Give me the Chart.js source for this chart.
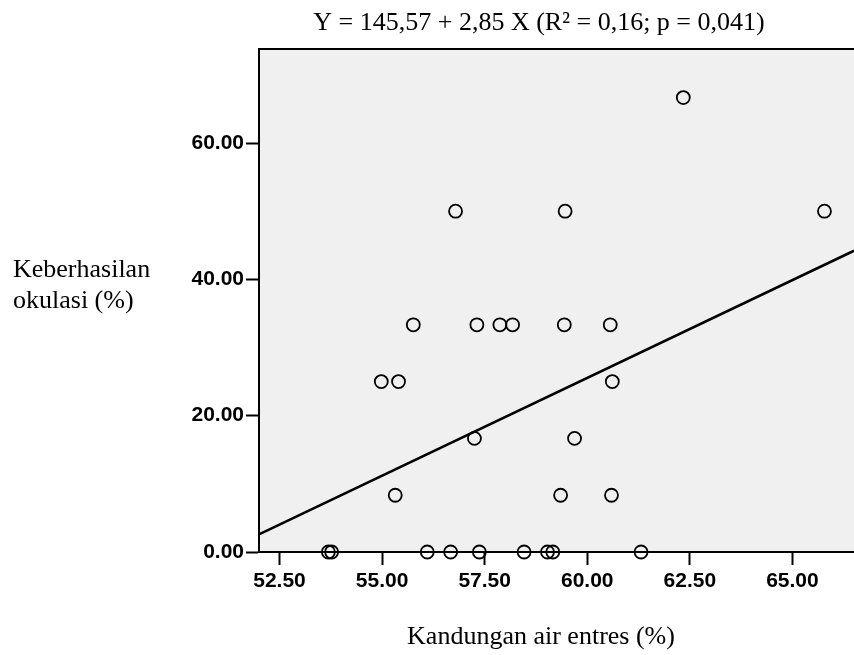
<!DOCTYPE html>
<html lang="id">
<head>
    <meta charset="UTF-8">
    <title>Kandungan air entres vs Keberhasilan okulasi</title>
    <script src="https://cdn.jsdelivr.net/npm/chart.js"></script>
    <style>
        html, body { margin: 0; padding: 0; background: #fff; overflow: hidden; }
        canvas { display: block; }
    </style>
</head>
<body>
    <canvas id="scatterChart" width="854" height="655"></canvas>

    <script>
        const kadarAir = [
            53.69, 53.77, 56.10, 56.67, 57.37, 58.46, 59.03, 59.16, 61.31,
            55.32, 59.35, 60.59,
            57.25, 59.69,
            54.98, 55.40, 60.61,
            55.76, 57.31, 57.87, 58.18, 59.44, 60.56,
            56.79, 59.46, 65.78,
            62.34
        ];
        const keberhasilan = [
            0, 0, 0, 0, 0, 0, 0, 0, 0,
            8.33, 8.33, 8.33,
            16.67, 16.67,
            25, 25, 25,
            33.33, 33.33, 33.33, 33.33, 33.33, 33.33,
            50, 50, 50,
            66.67
        ];

        // Fitted line end points
        const garisX = [52.0, 66.5];
        const garisY = [2.6, 44.2];

        // Tick labels
        const xTicks = [52.5, 55, 57.5, 60, 62.5, 65];
        const yTicks = [0, 20, 40, 60];

        const judul = 'Y = 145,57 + 2,85 X (R\u00B2 = 0,16; p = 0,041)';
        const judulX = 'Kandungan air entres (%)';
        const judulY = ['Keberhasilan', 'okulasi (%)'];

        const points = kadarAir.map((x, i) => ({ x: x, y: keberhasilan[i] }));
        const garis = garisX.map((x, i) => ({ x: x, y: garisY[i] }));

        const serif = '"Liberation Serif", "Times New Roman", serif';

        // grey plot area, top border and the serif texts
        const panelPlugin = {
            id: 'panel',
            beforeDraw(chart) {
                const { ctx, chartArea } = chart;
                ctx.save();
                ctx.fillStyle = '#f0f0f0';
                ctx.fillRect(chartArea.left, chartArea.top,
                    chartArea.right - chartArea.left, chartArea.bottom - chartArea.top);
                ctx.restore();
            },
            beforeDatasetsDraw(chart) {
                const { ctx, chartArea } = chart;
                ctx.save();
                ctx.strokeStyle = '#000';
                ctx.lineWidth = 2;
                ctx.beginPath();
                ctx.moveTo(chartArea.left, chartArea.top);
                ctx.lineTo(chartArea.right, chartArea.top);
                ctx.stroke();
                ctx.restore();
            },
            afterDraw(chart) {
                const { ctx } = chart;
                ctx.save();
                ctx.fillStyle = '#000';
                ctx.font = '26px ' + serif;
                ctx.textBaseline = 'alphabetic';
                ctx.textAlign = 'center';
                ctx.fillText(judul, 539, 30);
                ctx.fillText(judulX, 541, 644);
                ctx.textAlign = 'left';
                ctx.fillText(judulY[0], 13, 277);
                ctx.fillText(judulY[1], 13, 308);
                ctx.restore();
            }
        };

        const tickFont = { family: '"Liberation Sans", Arial, sans-serif', size: 21, weight: 'bold' };

        const ctx = document.getElementById('scatterChart').getContext('2d');
        const chart = new Chart(ctx, {
            type: 'scatter',
            data: {
                datasets: [
                    {
                        label: 'Data',
                        data: points,
                        pointRadius: 6.5,
                        pointHoverRadius: 6.5,
                        pointBorderWidth: 1.8,
                        borderColor: '#000',
                        backgroundColor: 'rgba(0,0,0,0)',
                        clip: false
                    },
                    {
                        type: 'line',
                        label: 'Regresi',
                        data: garis,
                        borderColor: '#000',
                        borderWidth: 2.5,
                        pointRadius: 0,
                        fill: false
                    }
                ]
            },
            options: {
                responsive: false,
                animation: false,
                events: [],
                layout: {
                    autoPadding: false,  // otherwise the point radius pushes the plot in
                    padding: { top: 49, left: 0, right: 0, bottom: 0 }
                },
                plugins: {
                    legend: { display: false },
                    title: { display: false },
                    tooltip: { enabled: false }
                },
                scales: {
                    x: {
                        type: 'linear',
                        min: 52.0,
                        max: 66.5,
                        afterBuildTicks: scale => {
                            scale.ticks = xTicks.map(v => ({ value: v }));
                        },
                        afterFit: scale => {
                            scale.height = 103;
                            scale.paddingLeft = 0;
                            scale.paddingRight = 0;
                        },
                        border: { color: '#000', width: 2 },
                        grid: {
                            drawOnChartArea: false,
                            tickLength: 13,
                            tickColor: '#000',
                            tickWidth: 2
                        },
                        ticks: {
                            color: '#000',
                            font: tickFont,
                            padding: 4,
                            maxRotation: 0,
                            callback: v => v.toFixed(2)
                        }
                    },
                    y: {
                        type: 'linear',
                        min: 0,
                        max: 73.8,
                        afterBuildTicks: scale => {
                            scale.ticks = yTicks.map(v => ({ value: v }));
                        },
                        afterFit: scale => {
                            scale.width = 259;
                            scale.paddingTop = 0;
                            scale.paddingBottom = 0;
                        },
                        border: { color: '#000', width: 2 },
                        grid: {
                            drawOnChartArea: false,
                            tickLength: 13,
                            tickColor: '#000',
                            tickWidth: 2
                        },
                        ticks: {
                            color: '#000',
                            font: tickFont,
                            padding: 2,
                            callback: v => v.toFixed(2)
                        }
                    }
                }
            },
            plugins: [panelPlugin]
        });
    </script>
</body>
</html>
